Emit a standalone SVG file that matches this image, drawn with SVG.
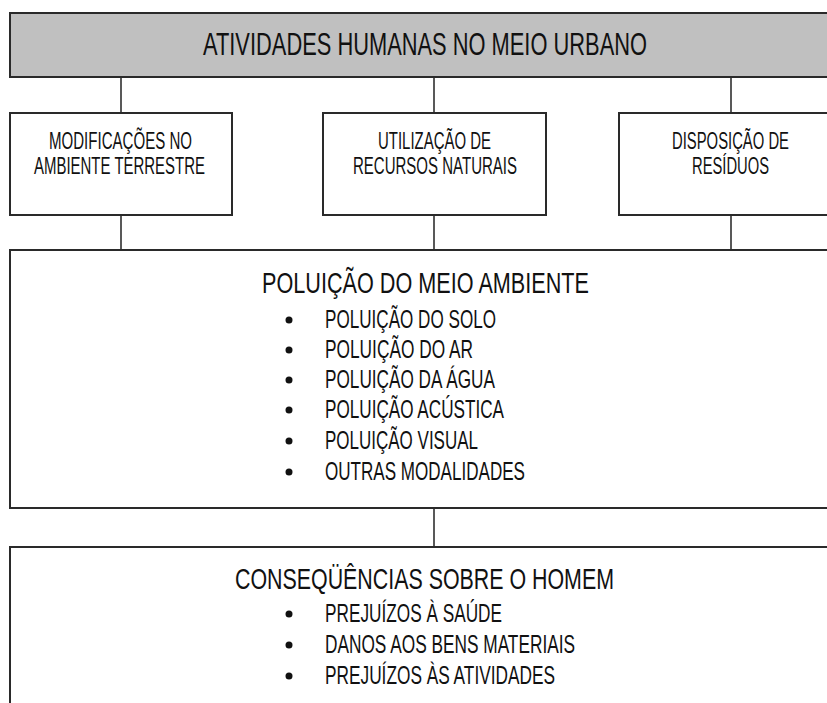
<svg xmlns="http://www.w3.org/2000/svg" width="827" height="703" viewBox="0 0 827 703">
<style>
.box{fill:#fff;stroke:#2a2a2a;stroke-width:2}
.hdr{fill:#c0c0c0;stroke:#2a2a2a;stroke-width:2}
.conn line{stroke:#222;stroke-width:1.5}
text{font-family:"Liberation Sans",Arial,sans-serif;fill:#111}
.h{font-size:32px}
.b{font-size:23px}
.t{font-size:30px}
.i{font-size:25px}
.dot{fill:#111}
</style>
<rect width="827" height="703" fill="#fff"/>
<g id="conn" class="conn">
<line x1="121" y1="77" x2="121" y2="113"/>
<line x1="434" y1="77" x2="434" y2="113"/>
<line x1="731" y1="77" x2="731" y2="113"/>
<line x1="121" y1="215" x2="121" y2="250"/>
<line x1="434" y1="215" x2="434" y2="250"/>
<line x1="731" y1="215" x2="731" y2="250"/>
<line x1="434" y1="508" x2="434" y2="547"/>
</g>
<g id="atividades">
<rect class="hdr" x="10" y="13" width="830" height="64"/>
<text class="h" x="203" y="55" textLength="444" lengthAdjust="spacingAndGlyphs">ATIVIDADES HUMANAS NO MEIO URBANO</text>
</g>
<g id="modificacoes">
<rect class="box" x="10" y="113" width="222" height="102"/>
<text class="b" x="49" y="149" textLength="143" lengthAdjust="spacingAndGlyphs">MODIFICAÇÕES NO</text>
<text class="b" x="34" y="174" textLength="171" lengthAdjust="spacingAndGlyphs">AMBIENTE TERRESTRE</text>
</g>
<g id="utilizacao">
<rect class="box" x="323" y="113" width="223" height="102"/>
<text class="b" x="378" y="149" textLength="113" lengthAdjust="spacingAndGlyphs">UTILIZAÇÃO DE</text>
<text class="b" x="353" y="174" textLength="164" lengthAdjust="spacingAndGlyphs">RECURSOS NATURAIS</text>
</g>
<g id="disposicao">
<rect class="box" x="619" y="113" width="220" height="102"/>
<text class="b" x="672" y="149" textLength="117" lengthAdjust="spacingAndGlyphs">DISPOSIÇÃO DE</text>
<text class="b" x="692" y="174" textLength="77" lengthAdjust="spacingAndGlyphs">RESÍDUOS</text>
</g>
<g id="poluicao">
<rect class="box" x="10" y="250" width="830" height="258"/>
<text class="t" x="262" y="293" textLength="327" lengthAdjust="spacingAndGlyphs">POLUIÇÃO DO MEIO AMBIENTE</text>
<circle class="dot" cx="289" cy="320" r="3.5"/>
<text class="i" x="325" y="328" textLength="171" lengthAdjust="spacingAndGlyphs">POLUIÇÃO DO SOLO</text>
<circle class="dot" cx="289" cy="350" r="3.5"/>
<text class="i" x="325" y="358" textLength="148" lengthAdjust="spacingAndGlyphs">POLUIÇÃO DO AR</text>
<circle class="dot" cx="289" cy="380" r="3.5"/>
<text class="i" x="325" y="388" textLength="170" lengthAdjust="spacingAndGlyphs">POLUIÇÃO DA ÁGUA</text>
<circle class="dot" cx="289" cy="410" r="3.5"/>
<text class="i" x="325" y="418" textLength="179" lengthAdjust="spacingAndGlyphs">POLUIÇÃO ACÚSTICA</text>
<circle class="dot" cx="289" cy="441" r="3.5"/>
<text class="i" x="325" y="449" textLength="153" lengthAdjust="spacingAndGlyphs">POLUIÇÃO VISUAL</text>
<circle class="dot" cx="289" cy="472" r="3.5"/>
<text class="i" x="325" y="480" textLength="200" lengthAdjust="spacingAndGlyphs">OUTRAS MODALIDADES</text>
</g>
<g id="consequencias">
<rect class="box" x="10" y="547" width="830" height="170"/>
<text class="t" x="235" y="589" textLength="379" lengthAdjust="spacingAndGlyphs">CONSEQÜÊNCIAS SOBRE O HOMEM</text>
<circle class="dot" cx="289" cy="614" r="3.5"/>
<text class="i" x="325" y="622" textLength="177" lengthAdjust="spacingAndGlyphs">PREJUÍZOS À SAÚDE</text>
<circle class="dot" cx="289" cy="645" r="3.5"/>
<text class="i" x="325" y="653" textLength="250" lengthAdjust="spacingAndGlyphs">DANOS AOS BENS MATERIAIS</text>
<circle class="dot" cx="289" cy="676" r="3.5"/>
<text class="i" x="325" y="684" textLength="230" lengthAdjust="spacingAndGlyphs">PREJUÍZOS ÀS ATIVIDADES</text>
</g>
</svg>
